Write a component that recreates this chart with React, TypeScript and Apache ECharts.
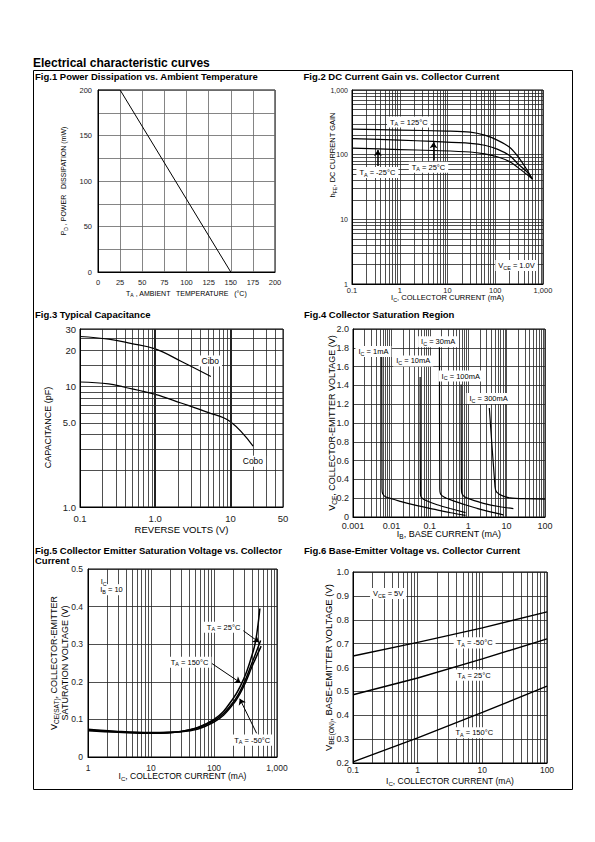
import React, { useEffect, useRef } from "react";
import * as echarts from "echarts";

const FONT = '"Liberation Sans", Arial, Helvetica, sans-serif';

/* ---------------- data ---------------- */
// Fig.1 Power dissipation vs ambient temperature
const fig1Temp = [0, 25, 150];
const fig1Power = [200, 200, 0];

// Fig.2 DC current gain (hFE) vs collector current (mA), VCE = 1.0 V
const hfe125: [number, number][] = [[0.1, 248], [1, 240], [10, 232], [30, 223], [60, 200], [110, 168], [200, 130], [300, 93], [450, 60], [600, 42]];
const hfe25: [number, number][] = [[0.1, 177], [1, 168], [5, 160], [30, 150], [60, 140], [110, 122], [200, 97], [300, 72], [450, 55], [600, 42]];
const hfeM25: [number, number][] = [[0.1, 126], [1, 120], [5, 116], [30, 110], [60, 103], [110, 93], [200, 78], [300, 63], [450, 50], [600, 42]];
const fig2XLabelVals = [0.1, 1, 10, 100, 1000];
const fig2XLabelTexts = ["0.1", "1", "10", "100", "1,000"];
const fig2YLabelVals = [1, 10, 100, 1000];
const fig2YLabelTexts = ["1", "10", "100", "1,000"];

// Fig.3 Typical capacitance (pF) vs reverse volts (V)
const cibo: [number, number][] = [[0.1, 26], [0.24, 24.7], [0.47, 22.8], [1, 20.5], [2.2, 16.2], [5.5, 12.1]];
const cobo: [number, number][] = [[0.1, 10.9], [0.24, 10.5], [0.38, 9.9], [1, 8.6], [2.2, 7.3], [5, 6.1], [10, 5.1], [20, 3.2]];
const fig3XLabelVals = [0.1, 1, 10, 50];
const fig3XLabelTexts = ["0.1", "1.0", "10", "50"];
const fig3YLabelVals = [1, 5, 10, 20, 30];
const fig3YLabelTexts = ["1.0", "5.0", "10", "20", "30"];
const fig3YGridVals = [1, 2, 3, 4, 5, 6, 7, 8, 9, 10, 15, 20, 25, 30];

// Fig.4 Collector saturation region: VCE (V) vs IB (mA)
const sat1mA: [number, number][] = [[0.0056, 1.71], [0.0057, 0.3], [0.0059, 0.25], [0.007, 0.215], [0.017, 0.167], [0.05, 0.118], [0.124, 0.084], [0.35, 0.045], [0.85, 0.018]];
const sat10mA: [number, number][] = [[0.056, 1.49], [0.057, 0.25], [0.06, 0.21], [0.08, 0.175], [0.155, 0.13], [0.34, 0.09], [0.85, 0.047]];
const sat30mA: [number, number][] = [[0.178, 1.815], [0.182, 0.3], [0.19, 0.245], [0.24, 0.21], [0.34, 0.185], [0.83, 0.13], [2.5, 0.073], [8.2, 0.022]];
const sat100mA: [number, number][] = [[0.654, 1.41], [0.665, 0.3], [0.69, 0.247], [0.8, 0.215], [1.12, 0.19], [2.5, 0.145], [6.7, 0.109], [15, 0.09]];
const sat300mA: [number, number][] = [[3.55, 1.16], [5.0, 0.32], [5.5, 0.265], [8.2, 0.222], [12.4, 0.204], [30, 0.195], [100, 0.19]];
const fig4XLabelVals = [0.001, 0.01, 0.1, 1, 10, 100];
const fig4XLabelTexts = ["0.001", "0.01", "0.1", "1", "10", "100"];

// Fig.5 VCE(sat) (V) vs IC (mA), IC/IB = 10
const vsat150: [number, number][] = [[1, 0.07], [3, 0.066], [10, 0.063], [30, 0.068], [100, 0.1], [200, 0.155], [300, 0.21], [400, 0.27], [460, 0.31], [535, 0.395]];
const vsat25: [number, number][] = [[1, 0.072], [3, 0.067], [10, 0.064], [30, 0.068], [100, 0.097], [200, 0.145], [300, 0.197], [400, 0.25], [550, 0.31]];
const vsatM50: [number, number][] = [[1, 0.074], [3, 0.068], [10, 0.065], [30, 0.067], [100, 0.093], [200, 0.14], [300, 0.19], [400, 0.24], [560, 0.295]];
const fig5XLabelVals = [1, 10, 100, 1000];
const fig5XLabelTexts = ["1", "10", "100", "1,000"];

// Fig.6 VBE(on) (V) vs IC (mA), VCE = 5 V
const vbeM50: [number, number][] = [[0.1, 0.648], [1, 0.705], [10, 0.766], [100, 0.833]];
const vbe25: [number, number][] = [[0.1, 0.486], [1, 0.556], [10, 0.636], [100, 0.72]];
const vbe150: [number, number][] = [[0.1, 0.205], [1, 0.305], [10, 0.412], [100, 0.522]];
const fig6XLabelVals = [0.1, 1, 10, 100];
const fig6XLabelTexts = ["0.1", "1", "10", "100"];

/* ---------------- helpers ---------------- */
function logLines(min: number, max: number): number[] {
  const out: number[] = [];
  for (let e = Math.floor(Math.log10(min)); e <= Math.ceil(Math.log10(max)); e++) {
    for (let m = 1; m <= 9; m++) {
      const v = +(m * Math.pow(10, e)).toPrecision(6);
      if (v >= min * 0.999999 && v <= max * 1.000001) out.push(v);
    }
  }
  return out;
}

function makeFmt(values: number[], texts: string[]) {
  return (v: number) => {
    for (let i = 0; i < values.length; i++) {
      if (Math.abs(v - values[i]) <= Math.abs(values[i]) * 1e-6 + 1e-12) return texts[i];
    }
    return "";
  };
}

const subRich = (fs: number) => ({
  s: {
    fontSize: +(fs * 0.72).toFixed(1),
    fontFamily: FONT,
    color: "#000",
    verticalAlign: "bottom",
    padding: [+(fs * 0.55).toFixed(1), 0, 0, 0],
  },
});

const nameStyle = (fs: number, pad: any = 0) => ({
  fontSize: fs,
  fontFamily: FONT,
  color: "#000",
  padding: pad,
  rich: subRich(fs),
});

function logAxis(o: any) {
  return {
    gridIndex: o.grid,
    type: "log",
    logBase: 10,
    min: o.min,
    max: o.max,
    axisLine: { show: true, onZero: false, lineStyle: { color: "#000", width: 1 } },
    axisTick: { show: false, customValues: o.lines },
    minorTick: { show: false },
    minorSplitLine: { show: false },
    splitLine: { show: true, lineStyle: { color: o.gridColor || "#222", width: 0.8 } },
    axisLabel: {
      show: true,
      customValues: o.labelVals,
      formatter: makeFmt(o.labelVals, o.labelTexts),
      fontSize: o.fs,
      fontFamily: FONT,
      color: "#222",
      margin: o.margin,
      hideOverlap: false,
    },
    name: o.name,
    nameLocation: "middle",
    nameGap: o.nameGap,
    nameMoveOverlap: false,
    nameTextStyle: nameStyle(o.nameFs, o.namePad || 0),
  };
}

function linAxis(o: any) {
  return {
    gridIndex: o.grid,
    type: "value",
    min: o.min,
    max: o.max,
    interval: o.interval,
    axisLine: { show: true, onZero: false, lineStyle: { color: "#000", width: 1 } },
    axisTick: { show: false },
    splitLine: { show: true, lineStyle: { color: o.gridColor || "#222", width: 0.8 } },
    axisLabel: {
      show: true,
      formatter: o.formatter,
      fontSize: o.fs,
      fontFamily: FONT,
      color: "#222",
      margin: o.margin,
      hideOverlap: false,
      showMinLabel: true,
      showMaxLabel: true,
    },
    name: o.name,
    nameLocation: "middle",
    nameGap: o.nameGap,
    nameMoveOverlap: false,
    nameTextStyle: nameStyle(o.nameFs, o.namePad || 0),
  };
}

function curve(grid: number, data: any, extra: any = {}) {
  return {
    type: "line",
    xAxisIndex: grid,
    yAxisIndex: grid,
    data,
    showSymbol: false,
    symbol: "none",
    silent: true,
    z: 3,
    lineStyle: { color: "#000", width: 1.2 },
    itemStyle: { color: "#000" },
    ...extra,
  };
}

function note(coord: [number, number], text: string, fs = 7.5, bg = "#fff") {
  return {
    coord,
    symbol: "rect",
    symbolSize: 1,
    itemStyle: { color: "rgba(0,0,0,0)" },
    label: {
      show: true,
      position: "inside",
      formatter: text,
      fontSize: fs,
      fontFamily: FONT,
      color: "#000",
      backgroundColor: bg,
      padding: [1, 3, 1, 3],
      rich: subRich(fs),
    },
  };
}

function notes(items: any[]) {
  return { silent: true, animation: false, data: items };
}

function arrows(pairs: [number, number][][], width = 1) {
  return {
    silent: true,
    animation: false,
    symbol: ["none", "arrow"],
    symbolSize: 6,
    label: { show: false },
    lineStyle: { color: "#000", width, type: "solid" },
    data: pairs.map((p) => [{ coord: p[0] }, { coord: p[1] }]),
  };
}

function titleText(x: number, y: number, text: string, fs: number) {
  return {
    type: "text",
    x,
    y,
    silent: true,
    style: {
      text,
      fontSize: fs,
      fontWeight: "bold",
      fontFamily: FONT,
      fill: "#000",
      textAlign: "left",
      align: "left",
      textVerticalAlign: "middle",
      verticalAlign: "middle",
    },
  };
}

function buildOption(): any {
  const grids = [
    { left: 98, top: 90, width: 177, height: 182 },
    { left: 352, top: 90, width: 191, height: 194 },
    { left: 80, top: 329, width: 203, height: 178 },
    { left: 353, top: 329, width: 192, height: 188 },
    { left: 88, top: 569, width: 189, height: 188 },
    { left: 353, top: 572, width: 194, height: 191 },
  ].map((g) => ({
    ...g,
    show: true,
    borderColor: "#000",
    borderWidth: 1,
    backgroundColor: "#fff",
    containLabel: false,
    outerBoundsMode: "none",
  }));

  const xAxis = [
    linAxis({
      grid: 0, min: 0, max: 200, interval: 25, fs: 7.5, margin: 6, gridColor: "#666",
      formatter: (v: number) => String(Math.round(v)),
      name: "T{s|A} , AMBIENT   TEMPERATURE   (°C)", nameGap: 17, nameFs: 7,
    }),
    logAxis({
      grid: 1, min: 0.1, max: 1000, lines: logLines(0.1, 1000),
      labelVals: fig2XLabelVals, labelTexts: fig2XLabelTexts, fs: 7.5, margin: 2,
      name: "I{s|C}, COLLECTOR CURRENT (mA)", nameGap: 9, nameFs: 7.5,
    }),
    logAxis({
      grid: 2, min: 0.1, max: 50, lines: logLines(0.1, 50),
      labelVals: fig3XLabelVals, labelTexts: fig3XLabelTexts, fs: 9.5, margin: 6,
      name: "REVERSE VOLTS (V)", nameGap: 17, nameFs: 9.5,
    }),
    logAxis({
      grid: 3, min: 0.001, max: 100, lines: logLines(0.001, 100),
      labelVals: fig4XLabelVals, labelTexts: fig4XLabelTexts, fs: 9, margin: 4,
      name: "I{s|B}, BASE CURRENT (mA)", nameGap: 11, nameFs: 9,
    }),
    logAxis({
      grid: 4, min: 1, max: 1000, lines: logLines(1, 1000),
      labelVals: fig5XLabelVals, labelTexts: fig5XLabelTexts, fs: 8.5, margin: 6,
      name: "I{s|C}, COLLECTOR CURRENT (mA)", nameGap: 14, nameFs: 8.5,
    }),
    logAxis({
      grid: 5, min: 0.1, max: 100, lines: logLines(0.1, 100),
      labelVals: fig6XLabelVals, labelTexts: fig6XLabelTexts, fs: 8.5, margin: 2,
      name: "I{s|C}, COLLECTOR CURRENT (mA)", nameGap: 13, nameFs: 8.5,
    }),
  ];

  const yAxis = [
    linAxis({
      grid: 0, min: 0, max: 200, interval: 25, fs: 7.5, margin: 6, gridColor: "#666",
      formatter: (v: number) => (Math.round(v) % 50 === 0 ? String(Math.round(v)) : ""),
      name: "P{s|D} , POWER   DISSIPATION (mW)", nameGap: 30, nameFs: 7,
    }),
    logAxis({
      grid: 1, min: 1, max: 1000, lines: logLines(1, 1000),
      labelVals: fig2YLabelVals, labelTexts: fig2YLabelTexts, fs: 7, margin: 4,
      name: "h{s|FE}, DC CURRENT GAIN", nameGap: 15, nameFs: 7.5, namePad: [0, 0, 0, 64],
    }),
    logAxis({
      grid: 2, min: 1, max: 30, lines: fig3YGridVals,
      labelVals: fig3YLabelVals, labelTexts: fig3YLabelTexts, fs: 9.5, margin: 4,
      name: "CAPACITANCE (pF)", nameGap: 28, nameFs: 9, namePad: [0, 19, 0, 0],
    }),
    linAxis({
      grid: 3, min: 0, max: 2, interval: 0.2, fs: 9, margin: 4,
      formatter: (v: number) => (Math.abs(v) < 1e-9 ? "0" : v.toFixed(1)),
      name: "V{s|CE}, COLLECTOR-EMITTER VOLTAGE (V)", nameGap: 15, nameFs: 9,
    }),
    linAxis({
      grid: 4, min: 0, max: 0.5, interval: 0.1, fs: 8.5, margin: 5,
      formatter: (v: number) => (Math.abs(v) < 1e-9 ? "0" : v.toFixed(1)),
      name: "V{s|CE(SAT)}, COLLECTOR-EMITTER\nSATURATION VOLTAGE (V)", nameGap: 19, nameFs: 9,
    }),
    linAxis({
      grid: 5, min: 0.2, max: 1.0, interval: 0.1, fs: 9, margin: 4,
      formatter: (v: number) => v.toFixed(1),
      name: "V{s|BE(ON)}, BASE-EMITTER VOLTAGE (V)", nameGap: 18, nameFs: 9.5,
    }),
  ];

  const series: any[] = [
    // Fig.1
    curve(0, fig1Temp.map((t, i) => [t, fig1Power[i]]), { lineStyle: { color: "#000", width: 1 } }),
    // Fig.2
    curve(1, hfe125, {
      smooth: 0.3,
      markPoint: notes([
        note([1.55, 320], "T{s|A} = 125°C"),
        note([0.34, 53], "T{s|A} = -25°C"),
        note([4, 64], "T{s|A} = 25°C"),
        note([279, 1.93], "V{s|CE} = 1.0V"),
      ]),
      markLine: arrows([
        [[0.348, 67], [0.348, 118]],
        [[5.1, 81], [5.1, 155]],
      ], 1.5),
    }),
    curve(1, hfe25, { smooth: 0.3 }),
    curve(1, hfeM25, { smooth: 0.3 }),
    // Fig.3
    curve(2, cibo, {
      smooth: 0.4,
      markPoint: notes([note([5.4, 16.3], "Cibo", 8.5), note([19.9, 2.4], "Cobo", 8.5)]),
      markLine: {
        silent: true,
        animation: false,
        symbol: "none",
        label: { show: false },
        lineStyle: { color: "#222", width: 2, type: "solid" },
        data: [{ xAxis: 1 }, { xAxis: 10 }],
      },
    }),
    curve(2, cobo, { smooth: 0.4 }),
    // Fig.4
    curve(3, sat1mA, {
      smooth: 0.2,
      markPoint: notes([
        note([0.0034, 1.76], "I{s|C} = 1mA"),
        note([0.037, 1.66], "I{s|C} = 10mA"),
        note([0.165, 1.865], "I{s|C} = 30mA"),
        note([0.64, 1.5], "I{s|C} = 100mA"),
        note([3.4, 1.26], "I{s|C} = 300mA"),
      ]),
    }),
    curve(3, sat10mA, { smooth: 0.2 }),
    curve(3, sat30mA, { smooth: 0.2 }),
    curve(3, sat100mA, { smooth: 0.2 }),
    curve(3, sat300mA, { smooth: 0.2 }),
    // Fig.5
    curve(4, vsat150, {
      smooth: 0.4,
      lineStyle: { color: "#000", width: 1.5 },
      markPoint: notes([
        note([2.36, 0.445], "I{s|B} = 10", 7.5),
        note([1.78, 0.466], "I{s|C}", 7.5, "rgba(0,0,0,0)"),
        note([142, 0.345], "T{s|A} = 25°C"),
        note([41, 0.252], "T{s|A} = 150°C"),
        note([405, 0.045], "T{s|A} = -50°C"),
      ]),
      markLine: {
        silent: true,
        animation: false,
        symbol: "none",
        label: { show: false },
        lineStyle: { color: "#000", width: 1, type: "solid" },
        data: [
          [{ coord: [286, 0.337], symbol: "none" }, { coord: [520, 0.305], symbol: "arrow", symbolSize: 6 }],
          [{ coord: [92, 0.249], symbol: "none" }, { coord: [265, 0.197], symbol: "arrow", symbolSize: 6 }],
          [{ coord: [475, 0.063], symbol: "none" }, { coord: [256, 0.155], symbol: "arrow", symbolSize: 6 }],
          [{ coord: [1.57, 0.455], symbol: "none" }, { coord: [2.0, 0.455], symbol: "none" }],
        ],
      },
    }),
    curve(4, vsat25, { smooth: 0.4, lineStyle: { color: "#000", width: 1.5 } }),
    curve(4, vsatM50, { smooth: 0.4, lineStyle: { color: "#000", width: 1.5 } }),
    // Fig.6
    curve(5, vbeM50, {
      lineStyle: { color: "#000", width: 1.4 },
      markPoint: notes([
        note([0.35, 0.91], "V{s|CE} = 5V"),
        note([7.6, 0.703], "T{s|A} = -50°C"),
        note([7.4, 0.568], "T{s|A} = 25°C"),
        note([7.5, 0.327], "T{s|A} = 150°C"),
      ]),
    }),
    curve(5, vbe25, { lineStyle: { color: "#000", width: 1.4 } }),
    curve(5, vbe150, { lineStyle: { color: "#000", width: 1.4 } }),
  ];

  const graphic = [
    {
      type: "rect",
      silent: true,
      shape: { x: 33.5, y: 70.5, width: 539, height: 719 },
      style: { fill: "none", stroke: "#000", lineWidth: 1 },
      z: 10,
    },
    titleText(33, 63, "Electrical characteristic curves", 12),
    titleText(35, 76, "Fig.1 Power Dissipation vs. Ambient Temperature", 9.5),
    titleText(303.5, 76, "Fig.2 DC Current Gain vs. Collector Current", 9.5),
    titleText(35, 314.5, "Fig.3 Typical Capacitance", 9.5),
    titleText(304, 314, "Fig.4 Collector Saturation Region", 9.5),
    titleText(35, 550, "Fig.5 Collector Emitter Saturation Voltage vs. Collector", 9.5),
    titleText(35, 560.5, "Current", 9.5),
    titleText(304, 550, "Fig.6 Base-Emitter Voltage vs. Collector Current", 9.5),
  ];

  return {
    animation: false,
    backgroundColor: "#fff",
    textStyle: { fontFamily: FONT },
    grid: grids,
    xAxis,
    yAxis,
    series,
    graphic,
  };
}

export default function App() {
  const ref = useRef<HTMLDivElement>(null);
  useEffect(() => {
    if (!ref.current) return;
    const chart = echarts.init(ref.current, null, { renderer: "svg", width: 595, height: 842 });
    chart.setOption(buildOption());
    return () => chart.dispose();
  }, []);
  return (
    <div
      ref={ref}
      style={{ position: "absolute", left: 0, top: 0, width: 595, height: 842, background: "#fff" }}
    />
  );
}
